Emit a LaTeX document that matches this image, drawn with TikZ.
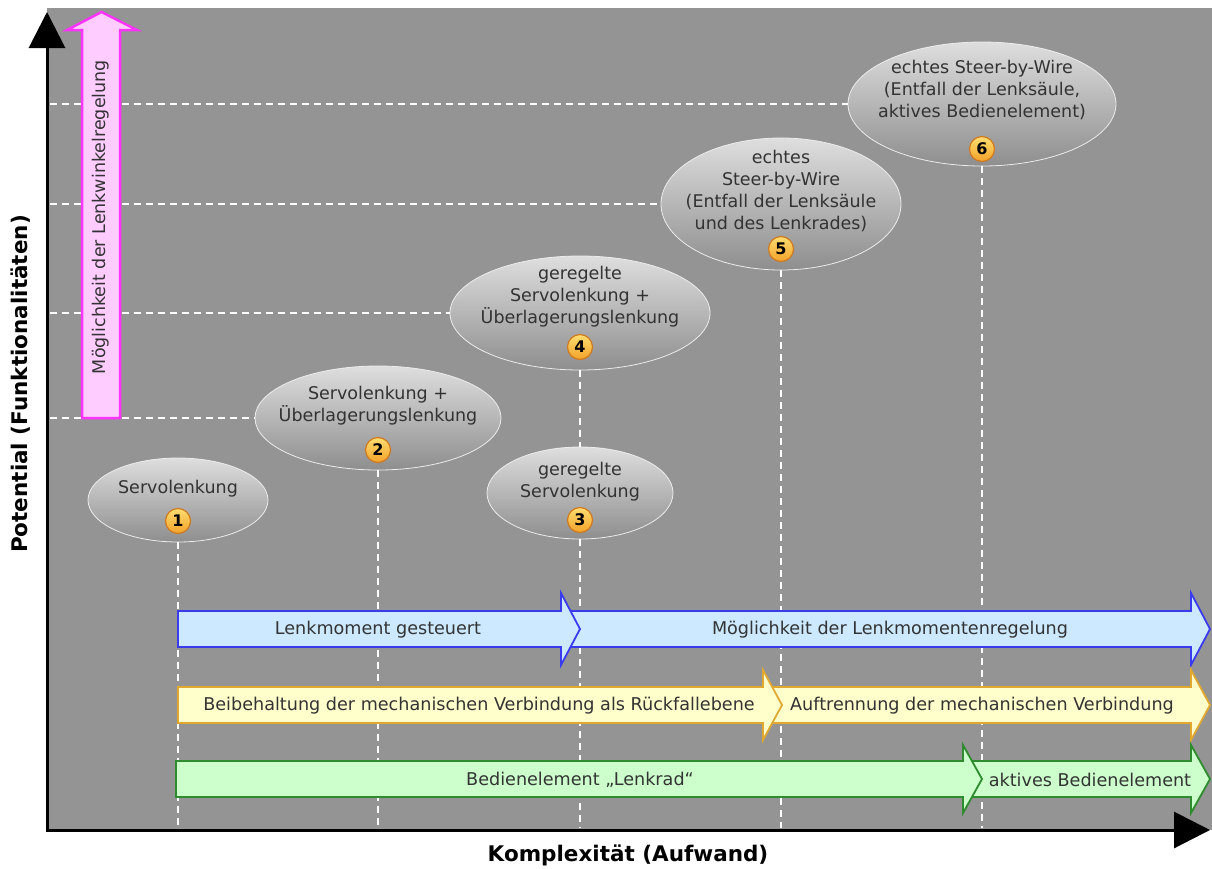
\documentclass[tikz,border=0pt]{standalone}
\usepackage{fontspec}
\setmainfont{DejaVu Sans}
\usetikzlibrary{arrows.meta,shapes.geometric}

\definecolor{plotbg}{HTML}{949494}
\definecolor{txt}{HTML}{333333}
\definecolor{ellTop}{HTML}{DEDEDE}
\definecolor{ellBot}{HTML}{8E8E8E}
\definecolor{badgeTop}{HTML}{FFDD70}
\definecolor{badgeBot}{HTML}{F2A22A}
\definecolor{badgeRim}{HTML}{D07A20}
\definecolor{blueFill}{HTML}{CCE9FF}
\definecolor{blueRim}{HTML}{3B3BEE}
\definecolor{yelFill}{HTML}{FFFFCC}
\definecolor{yelRim}{HTML}{E0A830}
\definecolor{grnFill}{HTML}{CCFFCC}
\definecolor{grnRim}{HTML}{2E8B2E}
\definecolor{pinkFill}{HTML}{FFCCFF}
\definecolor{pinkRim}{HTML}{FF33FF}

% band arrow: style, tail x, tip x, centre y, body half height, head half height
\newcommand{\bandarrow}[6]{%
  \filldraw[#1] (#2,#4-#5) -- (#3-19,#4-#5) -- (#3-19,#4-#6) -- (#3,#4)
    -- (#3-19,#4+#6) -- (#3-19,#4+#5) -- (#2,#4+#5) -- cycle;}

\begin{document}
\begin{tikzpicture}[x=1pt,y=-1pt,
  guide/.style={white, line width=2.5pt, dash pattern=on 7pt off 5pt},
  bubble/.style={ellipse, draw=white!85!gray, line width=0.8pt,
    top color=ellTop, bottom color=ellBot, inner sep=0pt},
  bubbletext/.style={align=center, text=txt, font=\fontsize{17.5}{22}\selectfont},
  badge/.style={circle, draw=badgeRim, line width=1.2pt, top color=badgeTop,
    bottom color=badgeBot, minimum size=25pt, inner sep=0pt,
    font=\fontsize{16}{16}\selectfont\bfseries, text=black},
  bandtext/.style={text=txt, font=\fontsize{17.6}{20}\selectfont},
  blueband/.style={fill=blueFill, draw=blueRim, line width=1.8pt, line join=miter},
  yelband/.style={fill=yelFill, draw=yelRim, line width=1.8pt, line join=miter},
  grnband/.style={fill=grnFill, draw=grnRim, line width=1.8pt, line join=miter},
  axis/.style={black, line width=3pt, line join=miter,
    {Triangle[length=36pt,width=36pt]}-{Triangle[length=36pt,width=36pt]}},
  axislabel/.style={text=black, font=\fontsize{21.5}{24}\selectfont\bfseries}
]
\useasboundingbox (0,0) rectangle (1212,868);
\fill[white] (0,0) rectangle (1212,868);
\fill[plotbg] (47,8) rectangle (1212,830);

% stage bubbles
\node[bubble, minimum width=180pt, minimum height=84pt]  (e1) at (178,500) {};
\node[bubble, minimum width=246pt, minimum height=104pt] (e2) at (378,418) {};
\node[bubble, minimum width=186pt, minimum height=92pt]  (e3) at (580,493) {};
\node[bubble, minimum width=260pt, minimum height=114pt] (e4) at (580,313) {};
\node[bubble, minimum width=240pt, minimum height=132pt] (e5) at (781,204) {};
\node[bubble, minimum width=268pt, minimum height=124pt] (e6) at (982,104) {};

% guide end points on the axes
\coordinate (h2) at (50,418);
\coordinate (h4) at (50,313);
\coordinate (h5) at (50,204);
\coordinate (h6) at (50,104);
\coordinate (v1) at (178,828);
\coordinate (v2) at (378,828);
\coordinate (v3) at (580,828);
\coordinate (v5) at (781,828);
\coordinate (v6) at (982,828);

% dashed guides
\draw[guide] (h2) -- (e2.west);
\draw[guide] (h4) -- (e4.west);
\draw[guide] (h5) -- (e5.west);
\draw[guide] (h6) -- (e6.west);
\draw[guide] (e1.south) -- (v1);
\draw[guide] (e2.south) -- (v2);
\draw[guide] (e4.south) -- (e3.north);
\draw[guide] (e3.south) -- (v3);
\draw[guide] (e5.south) -- (v5);
\draw[guide] (e6.south) -- (v6);

% bubble labels
\node[bubbletext] (l1) at (178,489) {Servolenkung};
\node[bubbletext] (l2) at (378,406) {Servolenkung +\\Überlagerungslenkung};
\node[bubbletext] (l3) at (580,482) {geregelte\\Servolenkung};
\node[bubbletext] (l4) at (580,297) {geregelte\\Servolenkung +\\Überlagerungslenkung};
\node[bubbletext] (l5) at (781,191) {echtes\\Steer-by-Wire\\(Entfall der Lenksäule\\und des Lenkrades)};
\node[bubbletext] (l6) at (982,90) {echtes Steer-by-Wire\\(Entfall der Lenksäule,\\aktives Bedienelement)};

% numbered badges
\node[badge] (b1) at (178,521) {1};
\node[badge] (b2) at (378,450) {2};
\node[badge] (b3) at (580,520) {3};
\node[badge] (b4) at (580,347) {4};
\node[badge] (b5) at (781,249) {5};
\node[badge] (b6) at (982,149) {6};

% band arrows
\bandarrow{blueband}{565}{1210}{629}{18}{36}
\bandarrow{blueband}{178}{580}{629}{18}{36}
\node[bandtext] (a1) at (378,630) {Lenkmoment gesteuert};
\node[bandtext] (a2) at (890,630) {Möglichkeit der Lenkmomentenregelung};

\bandarrow{yelband}{765}{1210}{705}{18}{35}
\bandarrow{yelband}{178}{782}{705}{18}{35}
\node[bandtext] (a3) at (479,706) {Beibehaltung der mechanischen Verbindung als Rückfallebene};
\node[bandtext] (a4) at (982,706) {Auftrennung der mechanischen Verbindung};

\bandarrow{grnband}{966}{1210}{779}{18}{34}
\bandarrow{grnband}{176}{982}{779}{18}{34}
\node[bandtext] (a5) at (580,780) {Bedienelement „Lenkrad“};
\node[bandtext] (a6) at (1090,780) {aktives Bedienelement};

% steering-angle arrow
\filldraw[fill=pinkFill, draw=pinkRim, line width=2.5pt, line join=miter]
  (82,418) -- (82,30) -- (67,30) -- (101.5,12) -- (137,30) -- (120,30) -- (120,418) -- cycle;
\node[bandtext, rotate=90, font=\fontsize{17.5}{20}\selectfont] (pa) at (101,217) {Möglichkeit der Lenkwinkelregelung};

% axes
\draw[axis] (47,12) -- (47,830) -- (1210,830);
\node[axislabel, rotate=90] (ylab) at (21,384) {Potential (Funktionalitäten)};
\node[axislabel] (xlab) at (628,855) {Komplexität (Aufwand)};
\end{tikzpicture}
\end{document}
